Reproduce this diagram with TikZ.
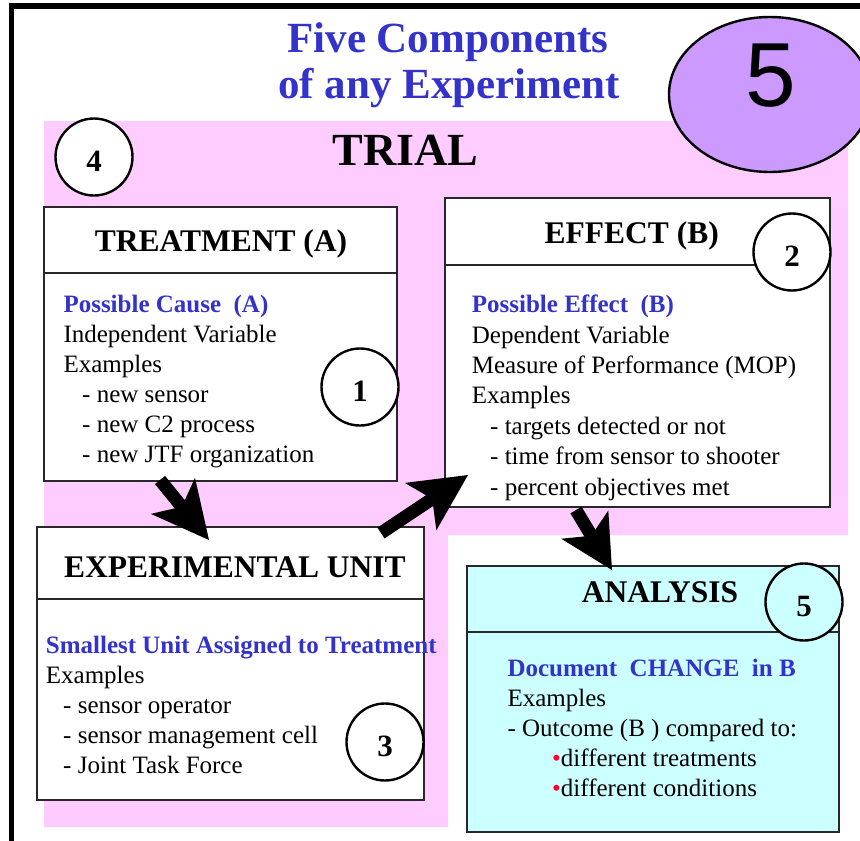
\documentclass[tikz,border=0pt]{standalone}
\usepackage{fontspec}
\setmainfont{Liberation Serif}
\newfontfamily\arialfont{Liberation Sans}
\usetikzlibrary{arrows.meta,shapes.geometric}
\definecolor{titleblue}{RGB}{51,51,204}
\definecolor{pinkbg}{RGB}{255,204,255}
\definecolor{cyanbg}{RGB}{204,255,255}
\definecolor{violetfill}{RGB}{204,153,255}
\definecolor{bulletred}{RGB}{255,0,51}
\definecolor{boxedge}{RGB}{40,40,40}
\tikzset{
  boxframe/.style={draw=boxedge, line width=1.3pt, fill=white, rectangle, inner sep=0pt, outer sep=0pt},
  divline/.style={draw=boxedge, line width=1.3pt},
  numcircle/.style={circle, draw=black, line width=2.4pt, fill=white, minimum size=77pt, inner sep=0pt},
  numlabel/.style={inner sep=0pt, font=\fontsize{31}{31}\selectfont\bfseries},
  hdtext/.style={anchor=base, inner sep=0pt, font=\fontsize{31.5}{32}\selectfont\bfseries},
  bodytext/.style={anchor=base west, inner sep=0pt, font=\fontsize{25}{30}\selectfont},
  subtext/.style={anchor=base west, inner sep=0pt, text=titleblue, font=\fontsize{25}{30}\selectfont\bfseries},
  titletext/.style={anchor=base, inner sep=0pt, text=titleblue, font=\fontsize{43}{45}\selectfont\bfseries},
  bigarrow/.style={line width=13pt, line cap=butt, -{Stealth[length=57pt, width=57pt, inset=14pt, line width=0pt]}}
}
\begin{document}
\begin{tikzpicture}[x=1pt,y=-1pt]
\useasboundingbox (0,0) rectangle (860,841);
\clip (0,0) rectangle (860,841);
\fill[white] (0,0) rectangle (860,841);
% frame
\draw[line width=5.5pt, line join=miter] (11.5,845) -- (11.5,6) -- (865,6);
% pink trial area
\fill[pinkbg] (44,121) -- (848,121) -- (848,535) -- (448,535) -- (448,827) -- (44,827) -- cycle;
% big ellipse
\node[ellipse, draw=black, line width=2.4pt, fill=violetfill, minimum width=202pt, minimum height=155pt, inner sep=0pt] (bigell) at (770,94.5) {};
\node[inner sep=0pt, font=\arialfont\fontsize{91}{91}\selectfont] (bigfive) at (771,75.5) {5};
% title
\node[titletext] (title1) at (448,52) {Five Components};
\node[titletext] (title2) at (449,98) {of any Experiment};
\node[anchor=base, inner sep=0pt, font=\fontsize{46}{46}\selectfont\bfseries] (trial) at (405.5,165) {TRIAL};
% boxes
\node[boxframe, minimum width=353pt, minimum height=274pt] (treat) at (220.5,344) {};
\node[boxframe, minimum width=385pt, minimum height=309pt] (effect) at (637.5,352.5) {};
\node[boxframe, minimum width=387pt, minimum height=273pt] (unit) at (230.5,663.5) {};
\node[boxframe, fill=cyanbg, minimum width=372pt, minimum height=266pt] (analysis) at (653,699) {};
\draw[divline] (treat.west |- 0,273) -- (treat.east |- 0,273);
\draw[divline] (effect.west |- 0,265) -- (effect.east |- 0,265);
\draw[divline] (unit.west |- 0,599) -- (unit.east |- 0,599);
\draw[divline] (analysis.west |- 0,632) -- (analysis.east |- 0,632);
% headers
\node[hdtext] (hA) at (221,251.7) {TREATMENT (A)};
\node[hdtext] (hB) at (631.7,243) {EFFECT (B)};
\node[hdtext] (hU) at (235,577) {EXPERIMENTAL UNIT};
\node[hdtext] (hN) at (660,602) {ANALYSIS};
% treatment body
\node[subtext] (ta1) at (63.3,312) {Possible Cause\ \ (A)};
\node[bodytext] (ta2) at (63.3,342) {Independent Variable};
\node[bodytext] (ta3) at (63.3,372) {Examples};
\node[bodytext] (ta4) at (82,402) {- new sensor};
\node[bodytext] (ta5) at (82,432) {- new C2 process};
\node[bodytext] (ta6) at (82,462) {- new JTF organization};
% effect body
\node[subtext] (tb1) at (471.7,312.5) {Possible Effect\ \ (B)};
\node[bodytext] (tb2) at (471.7,343) {Dependent Variable};
\node[bodytext] (tb3) at (471.7,373.3) {Measure of Performance (MOP)};
\node[bodytext] (tb4) at (471.7,403.7) {Examples};
\node[bodytext] (tb5) at (490,434) {- targets detected or not};
\node[bodytext] (tb6) at (490,464.5) {- time from sensor to shooter};
\node[bodytext] (tb7) at (490,495) {- percent objectives met};
% unit body
\node[subtext] (tu1) at (45.7,653.3) {Smallest Unit Assigned to Treatment};
\node[bodytext] (tu2) at (45.7,683.3) {Examples};
\node[bodytext] (tu3) at (63,713.3) {- sensor operator};
\node[bodytext] (tu4) at (63,743.3) {- sensor management cell};
\node[bodytext] (tu5) at (63,773.3) {- Joint Task Force};
% analysis body
\node[subtext] (tn1) at (507.3,676) {Document\ \ CHANGE\ \ in B};
\node[bodytext] (tn2) at (507.3,706) {Examples};
\node[bodytext] (tn3) at (507.3,736.7) {- Outcome (B ) compared to:};
\node[bodytext] (tn4) at (552,766.7) {{\color{bulletred}•}different treatments};
\node[bodytext] (tn5) at (552,796) {{\color{bulletred}•}different conditions};
% numbered circles
\node[numcircle] (c1) at (360,387) {};
\node[numcircle] (c2) at (792,252) {};
\node[numcircle] (c3) at (385,742) {};
\node[numcircle] (c4) at (94,157) {};
\node[numcircle, fill=cyanbg] (c5) at (804,602) {};
\node[numlabel] at ([yshift=-4pt]c1.center) {1};
\node[numlabel] at ([yshift=-4pt]c2.center) {2};
\node[numlabel] at ([yshift=-4pt]c3.center) {3};
\node[numlabel] at ([yshift=-4pt]c4.center) {4};
\node[numlabel] at ([yshift=-4pt]c5.center) {5};
% arrows
\coordinate (a1s) at (160,480);
\coordinate (a1e) at (209,540);
\coordinate (a2s) at (381,533);
\coordinate (a2e) at (468,475);
\coordinate (a3s) at (576,510);
\coordinate (a3e) at (612,570);
\draw[bigarrow] (a1s) -- (a1e);
\draw[bigarrow] (a2s) -- (a2e);
\draw[bigarrow, -{Stealth[length=53pt, width=55pt, inset=13pt, line width=0pt]}] (a3s) -- (a3e);
\end{tikzpicture}
\end{document}
